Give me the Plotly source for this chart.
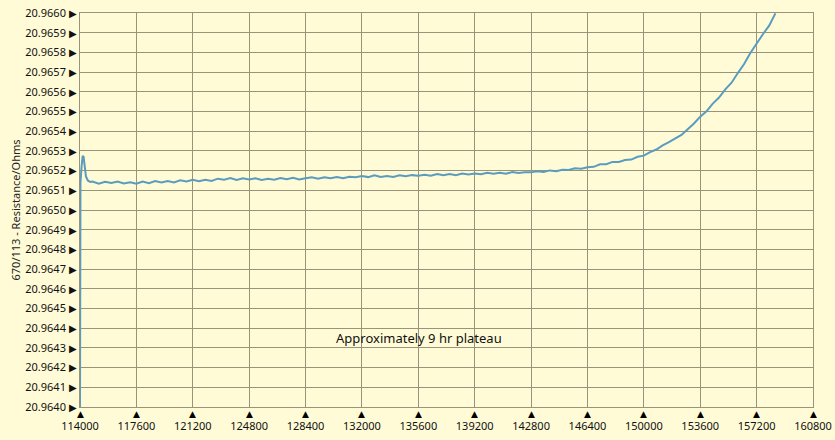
import plotly.graph_objects as go

# ---- data ----
x_start = [114000, 114030, 114100, 114170, 114230, 114300, 114380, 114500, 114650]
y_start = [20.96400, 20.965140, 20.965220, 20.965275, 20.965270, 20.965220, 20.965170, 20.965150, 20.965142]

x_main = [114800 + 400 * i for i in range(110)]
y_off = [145, 133, 143, 137, 145, 135, 141, 133, 144, 136,
         147, 140, 147, 140, 151, 145, 153, 146, 154, 147,
         159, 154, 162, 152, 161, 155, 161, 153, 159, 154,
         162, 156, 163, 155, 161, 166, 159, 166, 161, 168,
         161, 169, 166, 173, 167, 176, 168, 173, 168, 176,
         171, 177, 174, 179, 174, 183, 176, 183, 176, 185,
         180, 185, 182, 189, 184, 189, 184, 193, 188, 192,
         191, 197, 193, 201, 197, 204, 203, 212, 209, 217,
         219, 232, 232, 244, 244, 254, 256, 270, 276, 294,
         307, 328, 344, 364, 381, 410, 439, 474, 501, 540,
         571, 612, 646, 695, 741, 797, 846, 892, 936, 998]
y_main = [round(20.965 + v * 1e-6, 6) for v in y_off]

x_vals = x_start + x_main
y_vals = y_start + y_main

x_ticks = [114000 + 3600 * i for i in range(14)]
y_ticks = [round(20.9640 + 0.0001 * i, 4) for i in range(21)]

y_title = "670/113 - Resistance/Ohms"
note_text = "Approximately 9 hr plateau"

# ---- figure ----
bg = "#FFFBD6"
grid = "#99937A"
font = "Noto Sans"
y_min, y_max = 20.9640, 20.9660

fig = go.Figure()
fig.add_trace(go.Scatter(x=x_vals, y=y_vals, mode="lines",
                         line=dict(color="#5A9CBF", width=2), showlegend=False,
                         hoverinfo="skip"))

# triangle tick markers under the x axis
for xv in x_ticks:
    fig.add_annotation(x=xv, xref="x", y=0, yref="paper", yanchor="top", yshift=0,
                       text="▲", showarrow=False,
                       font=dict(family="DejaVu Sans", size=9, color="#000000"))

fig.add_annotation(x=135650, y=20.96435, text=note_text, showarrow=False,
                   font=dict(family=font, size=13, color="#111111"))

fig.update_layout(
    width=835, height=440,
    margin=dict(l=80, r=22, t=13, b=33),
    paper_bgcolor=bg, plot_bgcolor=bg,
    font=dict(family=font, size=11, color="#111111"),
)
fig.update_xaxes(
    range=[114000, 160800], tickvals=x_ticks,
    ticktext=[str(v) for v in x_ticks],
    showgrid=True, gridcolor=grid, gridwidth=1,
    showline=True, linecolor=grid, linewidth=1, mirror=True,
    zeroline=False, ticks="", ticklabelstandoff=9,
    tickfont=dict(family=font, size=11), automargin=False,
)
fig.update_yaxes(
    range=[y_min, y_max], tickvals=y_ticks,
    ticktext=["%.4f <span style='font-size:10px'>▶</span>" % v for v in y_ticks],
    showgrid=True, gridcolor=grid, gridwidth=1,
    showline=True, linecolor=grid, linewidth=1, mirror=True,
    zeroline=False, ticks="", ticklabelstandoff=0,
    tickfont=dict(family=font, size=11), automargin=False,
    title=dict(text=y_title, font=dict(family=font, size=11, color="#222222"), standoff=2),
)

fig.write_html(
    "out.html",
    config={"displayModeBar": False},
    post_script="document.body.style.margin='0';document.body.style.background='%s';" % bg,
)
